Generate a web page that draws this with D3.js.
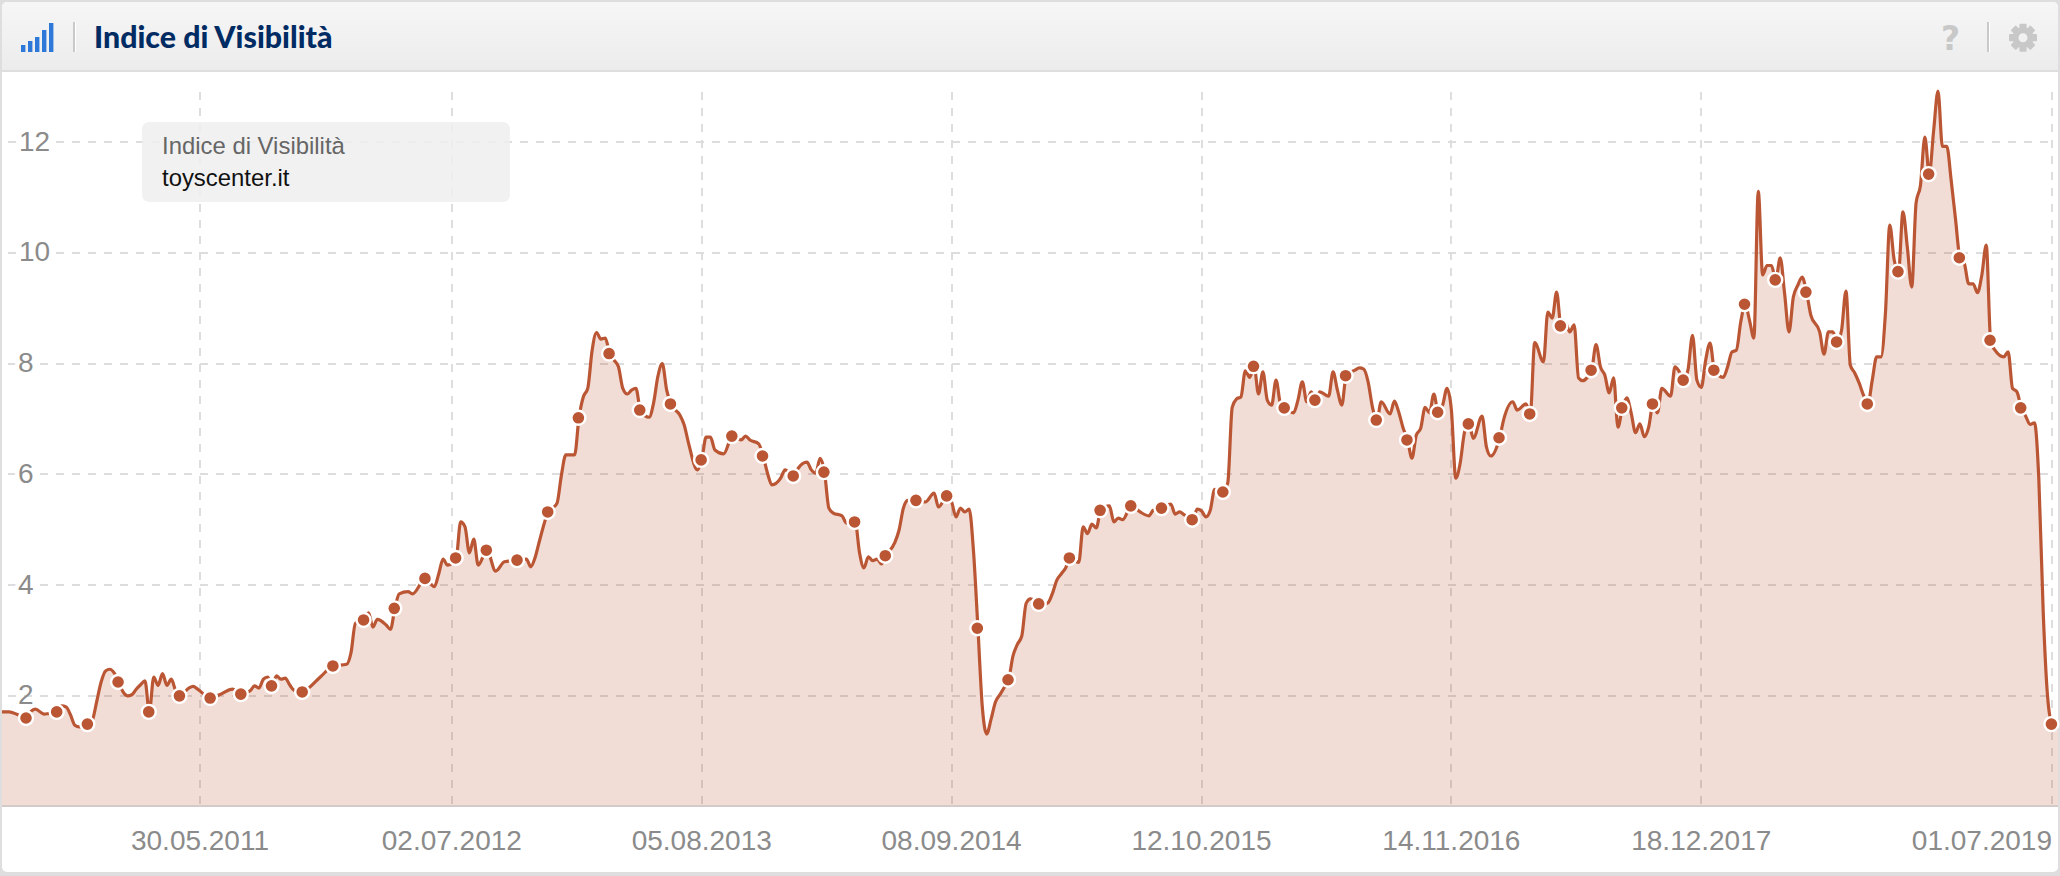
<!DOCTYPE html>
<html><head><meta charset="utf-8">
<script src="https://cdn.jsdelivr.net/npm/d3@7"></script>
<style>html,body{margin:0;padding:0;background:#fff}svg{display:block}</style></head>
<body><div id="chart"></div>
<script>
// Week number counted from the first week shown; one reading every few weeks where the curve bends
const visibility = [
[0,1.71],[2,1.71],[4,1.66],[6,1.60],[7,1.72],[8,1.76],[10,1.67],[11,1.68],[13,1.71],[14,1.82],[15,1.80],[16,1.66],[17,1.47],[18,1.44],[20,1.49],
[21,1.56],[22,1.90],[23,2.25],[24,2.45],[25,2.48],[26,2.41],[27,2.25],[28,2.07],[29,2.00],[30,2.02],[31,2.12],[32,2.20],[33,2.27],[34,1.71],
[35,2.34],[36,2.19],[37,2.40],[38,2.19],[39,2.30],[40,2.09],[41,2.00],[43,2.14],[44,2.17],[45,2.12],[48,1.96],[50,2.02],[53,2.12],[55,2.03],
[57,2.09],[58,2.18],[59,2.14],[60,2.30],[61,2.34],[62,2.18],[63,2.36],[64,2.30],[65,2.32],[66,2.20],[67,2.10],[69,2.07],[70,2.12],[73,2.34],[76,2.54],
[79,2.57],[80,2.78],[81,3.31],[83,3.37],[84,3.50],[85,3.24],[86,3.38],[88,3.28],[89,3.20],[90,3.58],[91,3.84],[93,3.88],[94,3.84],[97,4.12],
[99,3.97],[100,4.20],[101,4.47],[102,4.36],[104,4.49],[105,5.14],[106,5.05],[107,4.58],[108,4.83],[109,4.36],[111,4.63],[113,4.25],[115,4.42],[118,4.45],
[120,4.47],[121,4.33],[122,4.50],[123,4.80],[125,5.32],[126,5.39],[127,5.48],[128,5.99],[129,6.35],[131,6.35],[132,7.02],[133,7.40],[134,7.55],[135,8.24],
[136,8.56],[137,8.44],[138,8.46],[139,8.18],[140,8.06],[141,7.94],[142,7.55],[143,7.45],[144,7.52],[145,7.55],[146,7.16],[148,7.03],[149,7.28],[150,7.77],
[151,8.00],[152,7.52],[153,7.27],[155,7.07],[156,6.89],[157,6.56],[159,6.08],[160,6.26],[161,6.67],[162,6.67],[163,6.44],[165,6.37],[167,6.69],
[169,6.62],[170,6.69],[171,6.62],[173,6.55],[174,6.33],[175,6.02],[176,5.81],[178,5.93],[179,6.08],[181,5.97],[182,6.11],[184,6.22],[185,6.08],[186,6.02],
[187,6.29],[188,6.04],[189,5.39],[190,5.30],[192,5.25],[193,5.12],[195,5.14],[196,4.58],[197,4.31],[198,4.51],[199,4.44],[200,4.47],[201,4.38],[202,4.53],
[204,4.76],[205,4.99],[206,5.39],[207,5.53],[209,5.53],[211,5.50],[213,5.66],[214,5.41],[216,5.61],[217,5.50],[218,5.23],[219,5.39],[220,5.32],[221,5.37],
[222,4.60],[223,3.22],[224,1.80],[225,1.31],[226,1.58],[227,1.89],[228,2.02],[229,2.15],[230,2.29],[231,2.72],[232,2.93],[233,3.08],[234,3.67],[235,3.75],
[236,3.72],[237,3.66],[238,3.65],[239,3.68],[240,3.85],[241,4.09],[242,4.20],[243,4.31],[244,4.49],[246,4.41],[247,5.05],[248,4.93],[249,5.10],[250,5.03],
[251,5.35],[253,5.43],[254,5.14],[255,5.21],[256,5.18],[258,5.43],[260,5.32],[262,5.25],[263,5.35],[265,5.39],[267,5.46],[268,5.28],[269,5.32],[270,5.27],
[272,5.18],[273,5.37],[274,5.34],[275,5.23],[276,5.35],[277,5.73],[278,5.59],[279,5.68],[280,5.85],[281,7.21],[282,7.36],[283,7.40],[284,7.87],[285,7.75],
[286,7.95],[287,7.45],[288,7.85],[289,7.34],[290,7.25],[291,7.70],[292,7.28],[293,7.20],[295,7.11],[296,7.34],[297,7.67],[298,7.31],[299,7.49],[300,7.34],
[301,7.49],[303,7.41],[304,7.85],[305,7.52],[306,7.25],[307,7.78],[309,7.88],[310,7.92],[311,7.90],[312,7.67],[313,7.21],[314,6.98],[315,7.31],[317,7.09],
[318,7.32],[319,7.12],[320,6.83],[321,6.62],[322,6.29],[323,6.71],[324,6.83],[325,7.21],[326,7.11],[327,7.45],[328,7.12],[329,7.25],[330,7.55],[331,7.16],
[332,5.93],[333,6.20],[334,6.76],[335,6.91],[336,6.65],[338,7.05],[339,6.49],[340,6.33],[342,6.66],[343,7.01],[345,7.31],[346,7.16],[348,7.27],[349,7.09],
[350,8.38],[352,8.03],[353,8.93],[354,8.82],[355,9.29],[356,8.68],[357,8.75],[358,8.57],[359,8.70],[360,7.74],[361,7.69],[362,7.75],[363,7.88],[364,8.34],
[365,7.94],[366,7.79],[367,7.47],[368,7.74],[369,6.85],[370,7.20],[371,7.38],[372,7.11],[373,6.75],[374,6.91],[375,6.68],[376,6.85],[377,7.27],[378,7.11],
[379,7.55],[381,7.41],[382,7.94],[383,7.85],[384,7.70],[385,7.90],[386,8.51],[387,7.70],[388,7.57],[389,8.06],[390,8.37],[391,7.88],[393,7.75],[394,7.94],
[395,8.21],[396,8.24],[397,8.75],[398,9.07],[399,8.78],[400,8.46],[401,11.11],[402,9.60],[403,9.77],[404,9.77],[405,9.51],[406,9.91],[407,9.27],[408,8.57],
[409,9.20],[410,9.41],[411,9.56],[412,9.29],[413,8.87],[415,8.57],[416,8.17],[417,8.57],[418,8.57],[419,8.39],[420,8.60],[421,9.31],[422,7.97],[423,7.83],
[424,7.65],[425,7.43],[426,7.27],[427,7.70],[428,8.12],[429,8.12],[430,8.90],[431,10.50],[432,9.87],[433,9.66],[434,10.74],[435,10.10],[436,9.38],[437,10.90],
[438,11.22],[439,12.09],[440,11.42],[441,12.20],[442,12.92],[443,11.92],[444,11.92],[445,11.31],[446,10.60],[447,9.91],[448,9.81],[449,9.44],[450,9.44],
[451,9.28],[452,9.60],[453,10.14],[454,8.42],[455,8.24],[457,8.12],[458,8.21],[459,7.55],[460,7.49],[461,7.20],[462,7.05],[463,6.90],[464,6.93],[465,5.90],
[466,3.50],[467,1.98],[468,1.49],[469,1.42],[470,1.42]
];
const yTicks = [2,4,6,8,10,12];
const xTickWeeks = [45.55,103,160,217,274,331,388,468];
const xTickLabels = ["30.05.2011","02.07.2012","05.08.2013","08.09.2014","12.10.2015","14.11.2016","18.12.2017","01.07.2019"];
const markerWeeks = d3.range(6,469,7);
const lastWeek = 468;
const titleText = "Indice di Visibilità";
const legendLabel = "Indice di Visibilità";
const legendName = "toyscenter.it";
const signalBars = [1,2,3,4,5];

const W=2060,H=876;
const svg=d3.select("#chart").append("svg").attr("width",W).attr("height",H);
const defs=svg.append("defs");
const grad=defs.append("linearGradient").attr("id","hd").attr("x1",0).attr("x2",0).attr("y1",0).attr("y2",1);
grad.append("stop").attr("offset",0).attr("stop-color","#f6f6f6");
grad.append("stop").attr("offset",1).attr("stop-color","#ececec");
defs.append("clipPath").attr("id","plot").append("rect").attr("x",2).attr("y",72).attr("width",2056).attr("height",734);

// frame
svg.append("rect").attr("width",W).attr("height",H).attr("fill","#dedede");
svg.append("rect").attr("x",2).attr("y",2).attr("width",2056).attr("height",870).attr("rx",5).attr("fill","#fff");
svg.append("path").attr("d","M2 70V7a5 5 0 0 1 5-5H2053a5 5 0 0 1 5 5V70Z").attr("fill","url(#hd)");
svg.append("rect").attr("x",2).attr("y",70).attr("width",2056).attr("height",2).attr("fill","#dedede");

const x=d3.scaleLinear().domain([0,lastWeek]).range([0.3,2052]);
const y=d3.scaleLinear().domain([0,12]).range([806.6,142]);

// grid
const grid=svg.append("g").attr("stroke","#dddddd").attr("stroke-width",2).attr("stroke-dasharray","8 8").attr("fill","none");
grid.selectAll(".h").data(yTicks).join("line").attr("x1",8).attr("x2",2049).attr("y1",d=>Math.round(y(d))).attr("y2",d=>Math.round(y(d)));
grid.selectAll(".v").data(xTickWeeks).join("line").attr("x1",d=>Math.round(x(d))).attr("x2",d=>Math.round(x(d))).attr("y1",92).attr("y2",805);

// y labels
const font="'Liberation Sans',Arial,sans-serif";
svg.append("g").selectAll("text").data(yTicks).join("text")
 .attr("x",d=>d<10?18:19).attr("y",d=>y(d)+8.5).text(d=>d)
 .attr("font-family",font).attr("font-size",28).attr("fill","#8b8b8b")
 .attr("stroke","#fff").attr("stroke-width",d=>d===2?0:9).attr("paint-order","stroke");

// area and line
const plot=svg.append("g").attr("clip-path","url(#plot)");
const curve=d3.curveMonotoneX;
plot.append("path").datum(visibility).attr("fill","#bb5634").attr("fill-opacity",0.2)
 .attr("d",d3.area().x(d=>x(d[0])).y0(y(0)).y1(d=>y(d[1])).curve(curve));
plot.append("path").datum(visibility).attr("fill","none").attr("stroke","#bb5634").attr("stroke-width",3.2)
 .attr("stroke-linejoin","round")
 .attr("d",d3.line().x(d=>x(d[0])).y(d=>y(d[1])).curve(curve));
svg.append("rect").attr("x",2).attr("y",805).attr("width",2056).attr("height",2).attr("fill","#d2cbc8");

// markers
svg.append("g").selectAll("circle").data(visibility.filter(d=>markerWeeks.includes(d[0]))).join("circle")
 .attr("cx",d=>x(d[0])-0.6).attr("cy",d=>y(d[1])).attr("r",7)
 .attr("fill","#bb5634").attr("stroke","#fff").attr("stroke-width",2.4);

// x labels
svg.append("g").selectAll("text").data(xTickWeeks).join("text")
 .attr("x",d=>x(d)).attr("y",850).attr("text-anchor",(d,i)=>i===xTickWeeks.length-1?"end":"middle")
 .text((d,i)=>xTickLabels[i]).attr("font-family",font).attr("font-size",28).attr("fill","#8b8b8b");

// legend box
svg.append("rect").attr("x",142).attr("y",122).attr("width",368).attr("height",80).attr("rx",7).attr("fill","#efefef").attr("fill-opacity",0.88);
svg.append("text").attr("x",162).attr("y",154).text(legendLabel).attr("font-family",font).attr("font-size",23.9).attr("fill","#666");
svg.append("text").attr("x",162).attr("y",186).text(legendName).attr("font-family",font).attr("font-size",23.9).attr("fill","#111");

// header
const barH=[7,11,15,22,29];
svg.append("g").selectAll("rect").data(signalBars).join("rect")
 .attr("x",(d,i)=>21+i*7).attr("width",4.4).attr("y",(d,i)=>52-barH[i]).attr("height",(d,i)=>barH[i]).attr("fill","#2d78d8");
[73,1987].forEach(sx=>{
 svg.append("rect").attr("x",sx).attr("y",22).attr("width",2).attr("height",30).attr("fill","#c9c9c9");
 svg.append("rect").attr("x",sx+2).attr("y",22).attr("width",1).attr("height",30).attr("fill","#fff");
});
svg.append("text").attr("x",94).attr("y",48).text(titleText).attr("font-family","Lato,sans-serif").attr("font-weight",900)
 .attr("font-size",30.3).attr("fill","#002b63");
svg.append("text").attr("x",1950.5).attr("y",50).attr("text-anchor","middle").text("?").attr("font-family","'DejaVu Sans',sans-serif").attr("font-weight",700)
 .attr("font-size",33).attr("fill","#c8c8c8");
const gear=svg.append("g").attr("transform","translate(2023,37.7)").attr("fill","#c8c8c8");
d3.range(8).forEach(i=>gear.append("rect").attr("x",-3.6).attr("y",-14).attr("width",7.2).attr("height",7).attr("rx",1).attr("transform",`rotate(${i*45})`));
gear.append("circle").attr("r",7.5).attr("fill","none").attr("stroke","#c8c8c8").attr("stroke-width",6);
</script></body></html>
